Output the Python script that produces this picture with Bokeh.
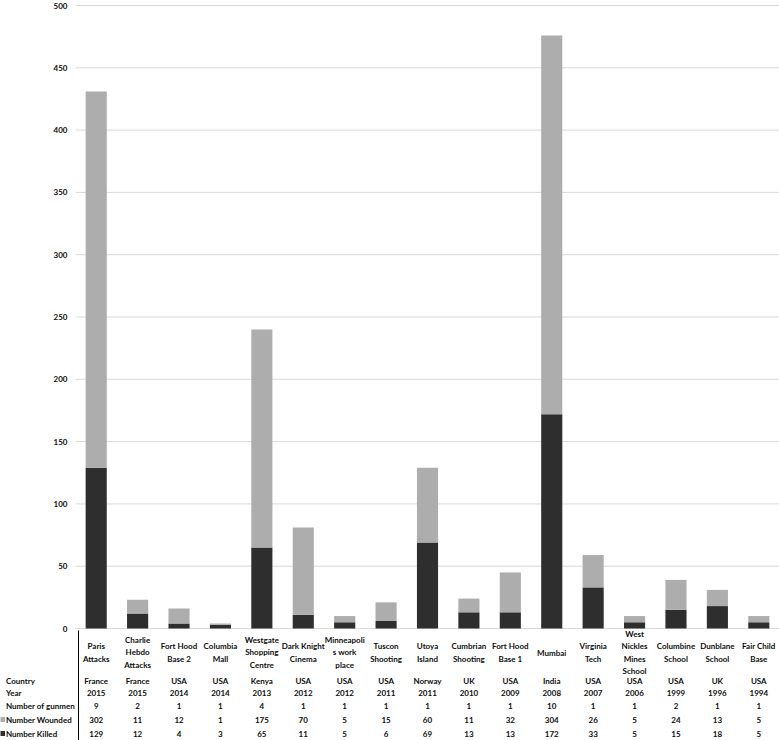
from bokeh.plotting import figure
from bokeh.models import Range1d, ColumnDataSource
from bokeh.embed import file_html
from bokeh.resources import INLINE
from bokeh.core.properties import value

# ---------------- data ----------------
incidents = ["Paris\nAttacks", "Charlie\nHebdo\nAttacks", "Fort Hood\nBase 2", "Columbia\nMall",
             "Westgate\nShopping\nCentre", "Dark Knight\nCinema", "Minneapoli\ns work\nplace",
             "Tuscon\nShooting", "Utoya\nIsland", "Cumbrian\nShooting", "Fort Hood\nBase 1",
             "Mumbai", "Virginia\nTech", "West\nNickles\nMines\nSchool", "Columbine\nSchool",
             "Dunblane\nSchool", "Fair Child\nBase"]
countries = ["France", "France", "USA", "USA", "Kenya", "USA", "USA", "USA", "Norway", "UK",
             "USA", "India", "USA", "USA", "USA", "UK", "USA"]
years = [2015, 2015, 2014, 2014, 2013, 2012, 2012, 2011, 2011, 2010, 2009, 2008, 2007, 2006,
         1999, 1996, 1994]
gunmen = [9, 2, 1, 1, 4, 1, 1, 1, 1, 1, 1, 10, 1, 1, 2, 1, 1]
wounded = [302, 11, 12, 1, 175, 70, 5, 15, 60, 11, 32, 304, 26, 5, 24, 13, 5]
killed = [129, 12, 4, 3, 65, 11, 5, 6, 69, 13, 13, 172, 33, 5, 15, 18, 5]
row_labels = ["Country", "Year", "Number of gunmen", "Number Wounded", "Number Killed"]
y_ticks = list(range(0, 501, 50))

# ---------------- layout / style (pixels) ----------------
W, H = 779, 740
LEFT = 75           # space left of the plot area
TOP = 5             # pixel row of the 500 line
CHART_BOTTOM = 628  # pixel row of the 0 line
n = len(incidents)
unit = (W - LEFT) / n
ppu = (CHART_BOTTOM - TOP) / y_ticks[-1]
KILLED_C = "#2e2e2e"
WOUND_C = "#adadad"
GRID_C = "#d9d9d9"
FONT = "Lato"
FS = "8px"
TXT_C = "#0d0d0d"


def below(px):
    """data y of a pixel offset below the 0 line"""
    return -px / ppu


x0 = -LEFT / unit
p = figure(width=W, height=H, x_range=Range1d(x0, n),
           y_range=Range1d(below(H - CHART_BOTTOM), y_ticks[-1] + TOP / ppu),
           output_backend="svg", toolbar_location=None, min_border=0,
           x_axis_location=None, y_axis_location=None)
p.grid.grid_line_color = None
p.outline_line_color = None

txt_kw = dict(text_font=value(FONT), text_font_style="bold", text_font_size=FS,
              text_color=TXT_C, text_baseline="middle")

# gridlines and value-axis labels
p.segment(x0=[0] * len(y_ticks), y0=y_ticks, x1=[n] * len(y_ticks), y1=y_ticks,
          line_color=GRID_C, line_width=1)
p.text(x=[-8 / unit] * len(y_ticks), y=y_ticks, text=[str(v) for v in y_ticks],
       text_align="right", **txt_kw)

# stacked bars
xs = [i + 0.5 for i in range(n)]
src = ColumnDataSource(dict(x=xs, killed=killed, wounded=wounded))
p.vbar_stack(["killed", "wounded"], x="x", width=0.51, color=[KILLED_C, WOUND_C],
             line_color=None, source=src)

# data table
p.text(x=xs, y=[below(24)] * n, text=incidents, text_align="center",
       text_line_height=1.22, **txt_kw)
row_px = [52, 64, 77, 91, 105]
row_y = [below(v) for v in row_px]
rows = [countries, [str(v) for v in years], [str(v) for v in gunmen],
        [str(v) for v in wounded], [str(v) for v in killed]]
for ry, vals in zip(row_y, rows):
    p.text(x=xs, y=[ry] * n, text=vals, text_align="center", **txt_kw)

p.text(x=[x0 + 5.5 / unit] * len(row_labels), y=row_y, text=row_labels, text_align="left",
       **txt_kw)
p.rect(x=[x0 + 2 / unit] * 2, y=row_y[3:], width=5, height=5, width_units="screen",
       height_units="screen", color=[WOUND_C, KILLED_C], line_color=None)
p.segment(x0=[3 / unit], y0=[below(2)], x1=[3 / unit], y1=[below(H - CHART_BOTTOM)],
          line_color="#000000", line_width=1)

open("out.html", "w").write(file_html(p, INLINE))
